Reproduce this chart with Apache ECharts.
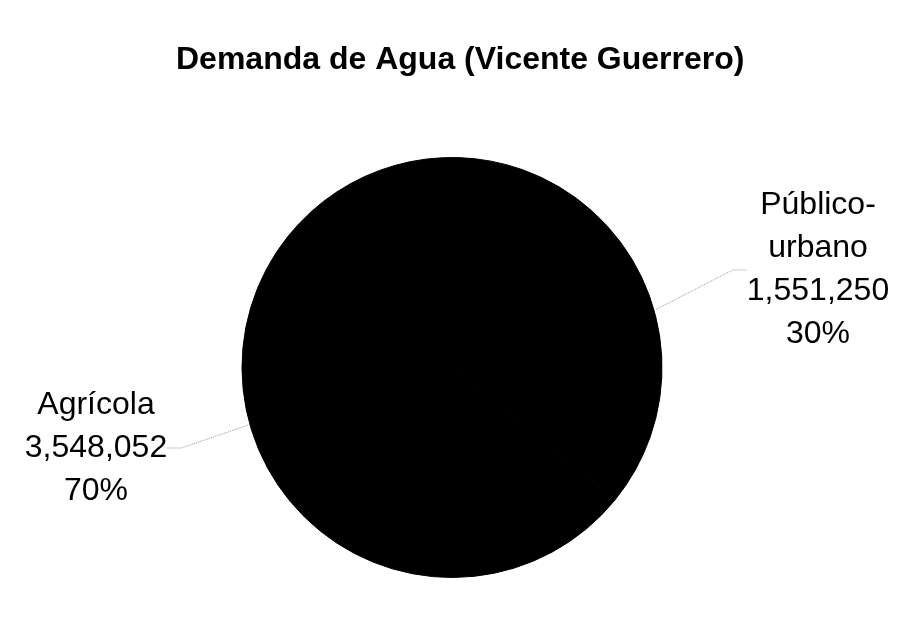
<!DOCTYPE html>
<html>
<head>
<meta charset="utf-8">
<script src="https://cdn.jsdelivr.net/npm/echarts@6/dist/echarts.min.js"></script>
<style>
  html, body { margin: 0; padding: 0; background: #fff; }
  #chart { width: 902px; height: 628px; }
</style>
</head>
<body>
<div id="chart"></div>
<script>
// Water demand by use, Vicente Guerrero
const titleText = 'Demanda de Agua (Vicente Guerrero)';
const categories = ['Agrícola', 'Público-urbano'];
const demand = [3548052, 1551250];

// Centre of each label block (px)
const labelAnchors = [[96, 448], [818, 270]];

const chart = echarts.init(document.getElementById('chart'), null, { renderer: 'canvas' });
const fmtNum = v => v.toLocaleString('en-US');

chart.setOption({
  backgroundColor: '#ffffff',
  animation: false,
  title: {
    text: titleText,
    left: 171,
    top: 39,
    textStyle: {
      fontFamily: 'Liberation Sans',
      fontWeight: 'bold',
      fontSize: 32,
      color: '#000'
    }
  },
  series: [{
    type: 'pie',
    center: [452, 367.5],
    radius: 210,
    startAngle: 321,
    clockwise: true,
    avoidLabelOverlap: false,
    data: categories.map((name, i) => ({ name: name, value: demand[i] })),
    itemStyle: { color: '#000', borderColor: '#000', borderWidth: 1 },
    emphasis: { disabled: true },
    label: {
      show: true,
      position: 'outside',
      formatter: p => p.name.replace('-', '-\n').split('\n')
        .concat([fmtNum(p.value), Math.round(p.percent) + '%'])
        .map(s => '{t|' + s + '}').join('\n'),
      rich: {
        t: {
          fontFamily: 'Liberation Sans',
          fontSize: 32,
          lineHeight: 43,
          color: '#000',
          align: 'center'
        }
      }
    },
    labelLine: {
      show: true,
      length: 20,
      length2: 14,
      lineStyle: { color: '#999', width: 1, type: 'dotted' }
    },
    labelLayout: p => ({
      x: labelAnchors[p.dataIndex][0],
      y: labelAnchors[p.dataIndex][1],
      align: 'center',
      verticalAlign: 'middle'
    })
  }]
});
</script>
</body>
</html>
